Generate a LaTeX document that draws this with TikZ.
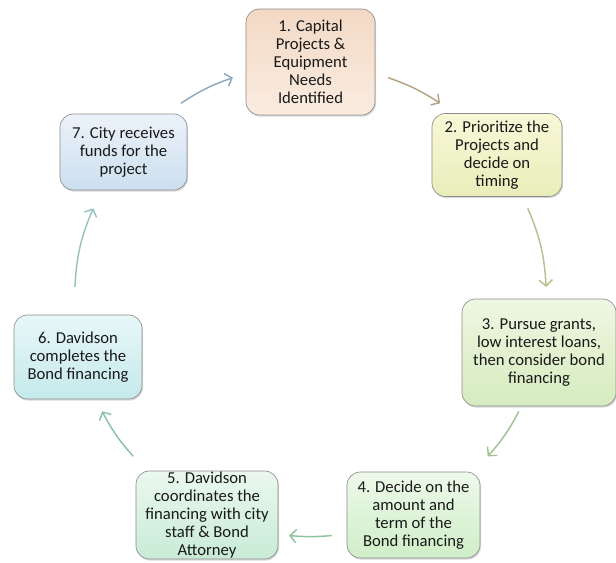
\documentclass[tikz,border=0pt]{standalone}
\usepackage{fontspec}
\setmainfont{Carlito}
\usetikzlibrary{shadows,arrows.meta,calc}

\definecolor{topA}{HTML}{F3D9C5}\definecolor{botA}{HTML}{FAECE0}
\definecolor{topB}{HTML}{F8F8D8}\definecolor{botB}{HTML}{E9EDB9}
\definecolor{topC}{HTML}{EFF7E2}\definecolor{botC}{HTML}{D5EBBE}
\definecolor{topD}{HTML}{EEF9EA}\definecolor{botD}{HTML}{CFEEC8}
\definecolor{topE}{HTML}{EBF8EF}\definecolor{botE}{HTML}{C8EBD5}
\definecolor{topF}{HTML}{E8F7F8}\definecolor{botF}{HTML}{C5E9EC}
\definecolor{topG}{HTML}{ECF2FA}\definecolor{botG}{HTML}{CCDFEF}
\definecolor{arrA}{RGB}{181,163,134}
\definecolor{arrB}{RGB}{185,192,142}
\definecolor{arrC}{RGB}{160,195,143}
\definecolor{arrD}{RGB}{142,196,154}
\definecolor{arrE}{RGB}{141,193,167}
\definecolor{arrF}{RGB}{150,196,192}
\definecolor{arrG}{RGB}{141,169,191}

\begin{document}
\begin{tikzpicture}[x=0.75pt,y=-0.75pt,
   stepbox/.style={draw=black!45,line width=0.5pt,rounded corners=10pt,align=center,
      inner sep=0pt,font=\fontsize{12.5}{13.4}\selectfont,text=black!90,
      drop shadow={opacity=0.3,shadow xshift=0.8pt,shadow yshift=-1.2pt}},
   size/.style 2 args={minimum width=#1,minimum height=#2},
   fill2/.style 2 args={top color=#1,bottom color=#2},
   cyc/.style={draw=#1,line width=1.1pt,-{Straight Barb[length=4.5pt,width=10pt]}}]
\useasboundingbox (0,0) rectangle (616,562);

% steps of the cycle
\node[stepbox,size={96.75pt}{79.5pt},fill2={topA}{botA}] (cap) at (310.5,62)
   {1. Capital\\Projects \&\\Equipment\\Needs\\Identified};
\node[stepbox,size={97.5pt}{62.25pt},fill2={topB}{botB}] (prio) at (497,155)
   {2. Prioritize the\\Projects and\\decide on\\timing};
\node[stepbox,size={115.5pt}{80.25pt},fill2={topC}{botC}] (grants) at (539,352.5)
   {3. Pursue grants,\\low interest loans,\\then consider bond\\financing};
\node[stepbox,size={99.75pt}{64.5pt},fill2={topD}{botD}] (decide) at (413.5,515)
   {4. Decide on the\\amount and\\term of the\\Bond financing};
\node[stepbox,size={106.5pt}{66pt},fill2={topE}{botE}] (coord) at (207,515)
   {5. Davidson\\coordinates the\\financing with city\\staff \& Bond\\Attorney};
\node[stepbox,size={96pt}{63pt},fill2={topF}{botF}] (complete) at (78,357)
   {6. Davidson\\completes the\\Bond financing};
\node[stepbox,size={95.25pt}{57pt},fill2={topG}{botG}] (funds) at (123.5,152)
   {7. City receives\\funds for the\\project};

% arrow ends on the ring
\coordinate (ctr) at (310.5,300.5);
\coordinate (a1) at ($(ctr)+(-70.8:236)$); \coordinate (b1) at ($(ctr)+(-56.7:236)$);
\coordinate (a2) at ($(ctr)+(-23:236)$);   \coordinate (b2) at ($(ctr)+(-3.3:236)$);
\coordinate (a3) at ($(ctr)+(28:236)$);    \coordinate (b3) at ($(ctr)+(41.3:236)$);
\coordinate (a4) at ($(ctr)+(84.8:236)$);  \coordinate (b4) at ($(ctr)+(95.2:236)$);
\coordinate (a5) at ($(ctr)+(138.7:236)$); \coordinate (b5) at ($(ctr)+(152:236)$);
\coordinate (a6) at ($(ctr)+(183.3:236)$); \coordinate (b6) at ($(ctr)+(203:236)$);
\coordinate (a7) at ($(ctr)+(236.7:236)$); \coordinate (b7) at ($(ctr)+(250.8:236)$);

\draw[cyc=arrA] (a1) to[bend left=7] (b1);
\draw[cyc=arrB] (a2) to[bend left=10] (b2);
\draw[cyc=arrC] (a3) to[bend left=7] (b3);
\draw[cyc=arrD] (a4) to[bend left=5] (b4);
\draw[cyc=arrE] (a5) to[bend left=7] (b5);
\draw[cyc=arrF] (a6) to[bend left=10] (b6);
\draw[cyc=arrG] (a7) to[bend left=7] (b7);
\end{tikzpicture}
\end{document}
